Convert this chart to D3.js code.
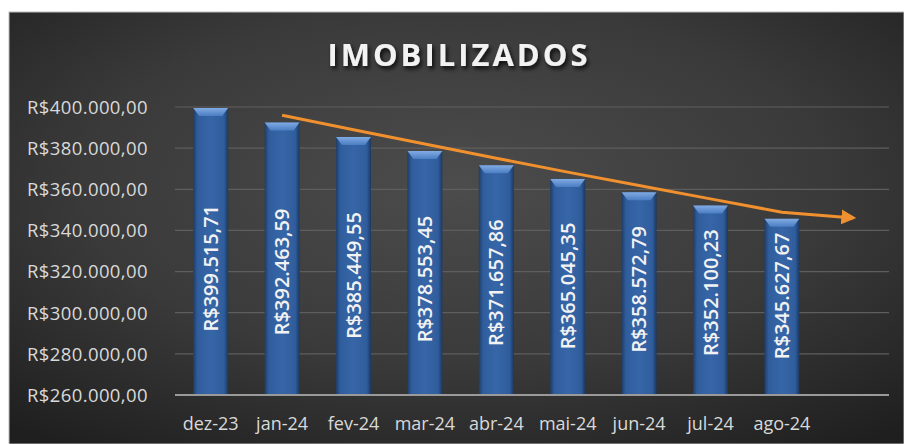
<!DOCTYPE html>
<html><head><meta charset="utf-8">
<script src="https://cdn.jsdelivr.net/npm/d3@7"></script>
<style>html,body{margin:0;padding:0;background:#fff;overflow:hidden}</style>
</head><body>
<svg id="c" width="904" height="444"></svg>
<script>
const categories = ["dez-23","jan-24","fev-24","mar-24","abr-24","mai-24","jun-24","jul-24","ago-24"];
const values = [399515.71,392463.59,385449.55,378553.45,371657.86,365045.35,358572.79,352100.23,345627.67];
const labels = ["R$399.515,71","R$392.463,59","R$385.449,55","R$378.553,45","R$371.657,86","R$365.045,35","R$358.572,79","R$352.100,23","R$345.627,67"];
const yTicks = [260000,280000,300000,320000,340000,360000,380000,400000];
const yTickLabels = ["R$260.000,00","R$280.000,00","R$300.000,00","R$320.000,00","R$340.000,00","R$360.000,00","R$380.000,00","R$400.000,00"];
const forecastSlot = "fc";
const trendEndValue = 346100;
const title = "IMOBILIZADOS";

const svg = d3.select("#c");
const defs = svg.append("defs");
const bg = defs.append("radialGradient").attr("id","bg").attr("cx","0.5").attr("cy","0.4").attr("r","0.75");
bg.append("stop").attr("offset","0").attr("stop-color","#4c4c4c");
bg.append("stop").attr("offset","0.55").attr("stop-color","#3a3a3a");
bg.append("stop").attr("offset","1").attr("stop-color","#1f1f1f");
const barG = defs.append("linearGradient").attr("id","bar").attr("x1","0").attr("x2","1").attr("y1","0").attr("y2","0");
barG.append("stop").attr("offset","0").attr("stop-color","#1f3c66");
barG.append("stop").attr("offset","0.12").attr("stop-color","#2f5d9c");
barG.append("stop").attr("offset","0.5").attr("stop-color","#3766a8");
barG.append("stop").attr("offset","0.88").attr("stop-color","#2f5d9c");
barG.append("stop").attr("offset","1").attr("stop-color","#1c3760");
const topG = defs.append("linearGradient").attr("id","topg").attr("x1","0").attr("x2","0").attr("y1","0").attr("y2","1");
topG.append("stop").attr("offset","0").attr("stop-color","#8fb8ee");
topG.append("stop").attr("offset","1").attr("stop-color","#4e82c8");
const sh = defs.append("filter").attr("id","sh").attr("x","-10%").attr("y","-20%").attr("width","130%").attr("height","160%");
sh.append("feDropShadow").attr("dx",2).attr("dy",3).attr("stdDeviation",2).attr("flood-color","#000").attr("flood-opacity",0.8);
defs.append("marker").attr("id","arr").attr("viewBox","0 0 10 10").attr("refX",8).attr("refY",5)
  .attr("markerWidth",5).attr("markerHeight",5).attr("orient","auto")
  .append("path").attr("d","M0,0 L10,5 L0,10 z").attr("fill","#f0902e");

svg.append("rect").attr("x",9).attr("y",12).attr("width",895).attr("height",432).attr("fill","url(#bg)")
  .attr("stroke","#bbb").attr("stroke-width",1);

const x = d3.scaleBand().domain(categories.concat([forecastSlot])).range([175,889]).paddingInner(0.51).paddingOuter(0.255);
const y = d3.scaleLinear().domain([260000,400000]).range([395,107]);

svg.append("g").selectAll("line").data(yTicks.slice(1)).join("line")
  .attr("x1",175).attr("x2",889).attr("y1",d=>y(d)).attr("y2",d=>y(d))
  .attr("stroke","#5e5e5e").attr("stroke-width",1.2);

const yAxis = d3.axisLeft(y).tickValues(yTicks).tickFormat((d,i)=>yTickLabels[i]).tickSize(0).tickPadding(0);
const ya = svg.append("g").attr("transform","translate(148,0)").call(yAxis);
ya.select(".domain").remove();
ya.selectAll("text").attr("fill","#d9d9d9").style("font-family","'Open Sans'").style("font-size","18.5px")
  .style("letter-spacing","0.4px").attr("dy","0.34em");

const bw = x.bandwidth();
const g = svg.append("g");
g.selectAll("rect.b").data(values).join("rect").attr("class","b")
  .attr("x",(d,i)=>x(categories[i])).attr("width",bw)
  .attr("y",d=>y(d)).attr("height",d=>y(260000)-y(d)).attr("fill","url(#bar)");
g.selectAll("path.t").data(values).join("path").attr("class","t")
  .attr("d",(d,i)=>{const x0=x(categories[i]),y0=y(d);return `M${x0},${y0} L${x0+bw},${y0} L${x0+bw-6},${y0+8} L${x0+6},${y0+8} Z`;})
  .attr("fill","url(#topg)").attr("opacity",0.85);

svg.append("line").attr("x1",175).attr("x2",889).attr("y1",y(260000)).attr("y2",y(260000)).attr("stroke","#9a9a9a").attr("stroke-width",2);
const xAxis = d3.axisBottom(x).tickValues(categories).tickSize(0).tickPadding(0);
const xa = svg.append("g").attr("transform",`translate(0,${y(260000)})`).call(xAxis);
xa.select(".domain").remove();
xa.selectAll("text").attr("fill","#d9d9d9").attr("y",35).attr("dy",0).style("font-family","'Open Sans'").style("font-size","18px");

g.selectAll("text.l").data(values).join("text").attr("class","l")
  .attr("transform",(d,i)=>{const cx=x(categories[i])+bw/2; const cy=((y(d)+y(260000))/2+285)/2; return `translate(${cx+7},${cy}) rotate(-90)`;})
  .attr("text-anchor","middle").attr("fill","#f2f2f2")
  .style("font-family","'Open Sans'").style("font-size","20px").style("font-weight",600)
  .text((d,i)=>labels[i]);

const ma = values.slice(1).map((v,i)=>({c:categories[i+1],v:(v+values[i])/2}));
ma.push({c:forecastSlot,v:trendEndValue});
const line = d3.line().x(d=>x(d.c)+bw/2).y(d=>y(d.v));
svg.append("path").datum(ma).attr("d",line).attr("fill","none").attr("stroke","#f0902e").attr("stroke-width",3)
  .attr("marker-end","url(#arr)");

svg.append("text").attr("x",459).attr("y",66).attr("text-anchor","middle").attr("fill","#f2f2f2")
  .style("font-family","'Open Sans'").style("font-size","31px").style("font-weight",700).style("letter-spacing","3px")
  .attr("filter","url(#sh)").text(title);
</script>
</body></html>
